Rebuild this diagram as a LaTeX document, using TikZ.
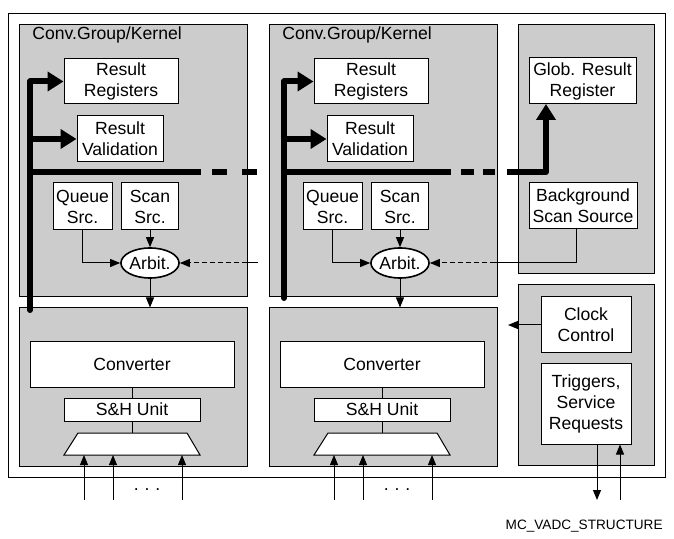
\documentclass[tikz,border=0pt]{standalone}
\usepackage{fontspec}
\setmainfont{Liberation Sans}
\usetikzlibrary{arrows.meta,shapes.geometric}
\definecolor{panelgray}{RGB}{204,204,204}

\tikzset{
    txt/.style={font=\fontsize{8.8}{10.5}\selectfont},
    panel/.style={draw, fill=panelgray, line width=0.5pt, inner sep=0pt},
    blk/.style={draw, fill=white, line width=0.5pt, align=center, inner sep=0pt, txt},
    bus/.style={line width=3pt},
    busarrow/.style={bus, -{Triangle[length=8pt,width=9.5pt]}},
    sig/.style={line width=0.5pt, -{Triangle[length=5pt,width=4pt]}},
    dsig/.style={sig, dash pattern=on 2.5pt off 1.5pt}
}

\begin{document}
\begin{tikzpicture}[x=0.5pt, y=-0.5pt]
    \useasboundingbox (0,0) rectangle (674,539);

    % 1. OUTER FRAME
    \draw[line width=0.5pt] (8,14) rectangle (665,477);

    % 2. THE TWO CONVERSION GROUPS
    \foreach \g/\dx/\bx/\by in {1/0/30/310, 2/250/284/298} {
        \node[panel, minimum width=114pt, minimum height=136pt] (grp\g) at (133+\dx,161) {};
        \node[panel, minimum width=114pt, minimum height=79pt] (low\g) at (133+\dx,387) {};
        \node[txt, anchor=west, inner sep=0pt] (ttl\g) at (32+\dx,35) {Conv.Group/Kernel};

        \node[blk, minimum width=57pt, minimum height=22.5pt] (res\g) at (121+\dx,81.5) {Result\\Registers};
        \node[blk, minimum width=43pt, minimum height=23pt] (val\g) at (120+\dx,139) {Result\\Validation};
        \node[blk, minimum width=29.5pt, minimum height=23.5pt] (queue\g) at (82.5+\dx,206.5) {Queue\\Src.};
        \node[blk, minimum width=28.5pt, minimum height=23.5pt] (scan\g) at (150+\dx,206.5) {Scan\\Src.};
        \node[blk, ellipse, line width=0.8pt, minimum width=29pt, minimum height=15pt] (arb\g) at (150+\dx,263) {Arbit.};
        \node[blk, minimum width=102pt, minimum height=22.5pt] (conv\g) at (132+\dx,364.5) {Converter};
        \node[blk, minimum width=68pt, minimum height=11.5pt] (sh\g) at (132+\dx,409.5) {S\&H Unit};
        \draw[fill=white, line width=0.5pt] (78+\dx,433) -- (187+\dx,433) -- (200+\dx,455) -- (64+\dx,455) -- cycle;
        \coordinate (mux\g) at (132+\dx,433);

        % source -> arbiter -> converter
        \draw[sig] (queue\g.south) |- (arb\g.west);
        \draw[sig] (scan\g.south) -- (arb\g.north);
        \draw[sig] (arb\g.south) -- (low\g.north -| arb\g.south);
        \draw[line width=0.5pt] (conv\g.south) -- (sh\g.north);
        \draw[line width=0.5pt] (sh\g.south) -- (mux\g);

        % analog inputs
        \foreach \ix in {84,113,182} {
            \draw[sig] (\ix+\dx,500) -- (\ix+\dx,455);
        }
        \node[txt] (dots\g) at (147+\dx,490) {.\,\,.\,\,.};

        % result bus
        \coordinate (bus\g) at (\bx,\by);
        \coordinate (tap\g) at (\bx,172);
        \coordinate (cut\g) at (201+\dx,172);
        \draw[busarrow, line cap=round, line join=round] (bus\g) -- (bus\g |- res\g.west) -- (res\g.west);
        \draw[busarrow] (bus\g |- val\g.west) -- (val\g.west);
        \draw[bus] (tap\g) -- (cut\g);
    }

    % 3. BUS DASHES BETWEEN THE GROUPS
    \foreach \a/\b in {212/227, 242/257, 461/474, 483/495} {
        \draw[bus] (\a,172) -- (\b,172);
    }

    % 4. GLOBAL PART
    \node[panel, minimum width=68pt, minimum height=124.5pt] (glb) at (586,149.5) {};
    \node[panel, minimum width=68pt, minimum height=90pt] (ctl) at (586,375) {};
    \node[blk, minimum width=53.5pt, minimum height=23pt] (glob) at (582.5,81) {Glob. Result\\Register};
    \node[blk, minimum width=54pt, minimum height=23pt] (bss) at (583,206) {Background\\Scan Source};
    \node[blk, minimum width=45pt, minimum height=28pt] (clk) at (586,325) {Clock\\Control};
    \node[blk, minimum width=45pt, minimum height=40pt] (trig) at (586,404) {Triggers,\\Service\\Requests};

    \coordinate (gout) at (507,172);
    \coordinate (gin) at (546,104);
    \draw[busarrow, line join=round] (gout) -| (gin);

    % background source -> arbiters
    \coordinate (bsin) at (495,263);
    \coordinate (bsout) at (258,263);
    \coordinate (bsedge) at (247,263);
    \draw[line width=0.5pt] ([xshift=-3.5pt]bss.south) |- (bsin);
    \draw[dsig] (bsin) -- (arb2.east);
    \draw[line width=0.5pt] (bsout) -- (bsedge);
    \draw[dsig] (bsedge) -- (arb1.east);

    % clock and triggers
    \coordinate (clkin) at (508,325);
    \draw[sig] (clk.west) -- (clkin);
    \coordinate (trout) at (597,500);
    \coordinate (trin) at (620,500);
    \draw[sig] (trig.south -| trout) -- (trout);
    \draw[sig] (trin) -- (trig.south -| trin);

    \node[anchor=east, inner sep=0pt, font=\fontsize{6.8}{8}\selectfont] (figid) at (663,526) {MC\_VADC\_STRUCTURE};
\end{tikzpicture}
\end{document}
